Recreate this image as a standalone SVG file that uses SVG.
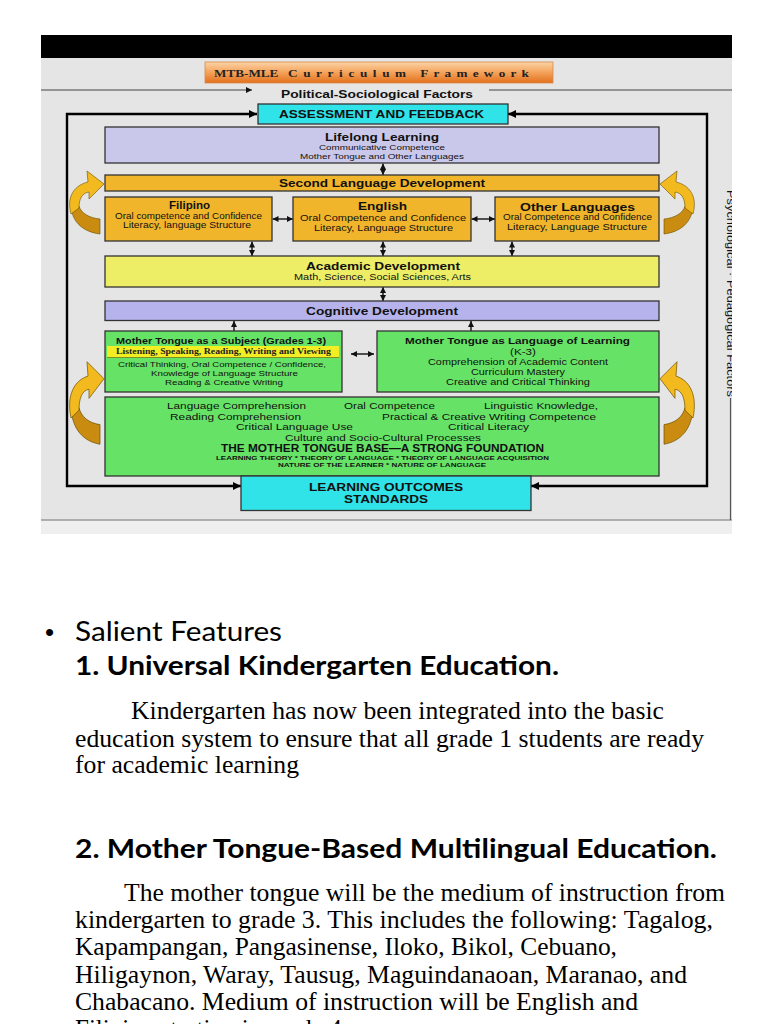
<svg xmlns="http://www.w3.org/2000/svg" width="768" height="1024" viewBox="0 0 768 1024">
<defs>
<style>
.t{font-family:"Liberation Sans",Arial,sans-serif;fill:#111}
.b{font-weight:bold}
.box{stroke:#333;stroke-width:1.3}
.lav{fill:#cac8ea}.cog{fill:#b6b3ec}.gold{fill:#f1b52b}.yel{fill:#eeee66}.grn{fill:#66e366}.cyan{fill:#2fe3e8}
.con{stroke:#111;fill:none;stroke-width:1.4}
.loop{stroke:#000;fill:none;stroke-width:2.4}
.body{font-family:"Liberation Serif","Times New Roman",serif;font-size:25px;fill:#000}
.head{font-family:Lato,"Open Sans",sans-serif;font-size:27px;fill:#000}
</style>
<linearGradient id="og" x1="0" y1="0" x2="0" y2="1">
<stop offset="0" stop-color="#fbd3a6"/><stop offset="0.5" stop-color="#f4a25a"/><stop offset="1" stop-color="#e2701c"/>
</linearGradient>
<marker id="ah" viewBox="0 0 6 6" refX="6" refY="3" markerWidth="6" markerHeight="6" markerUnits="userSpaceOnUse" orient="auto-start-reverse">
<path d="M0,0 L6,3 L0,6 z" fill="#111"/>
</marker>
<marker id="ahb" viewBox="0 0 8 8" refX="8" refY="4" markerWidth="8" markerHeight="8" markerUnits="userSpaceOnUse" orient="auto-start-reverse">
<path d="M0,0 L8,4 L0,8 z" fill="#000"/>
</marker>
<g id="curl">
<path d="M71,206 C72,223 84,232 100,234 L100,219 C89,218 81,213 79,206 Z" fill="#c98b10" stroke="#6b5000" stroke-width="0.6"/>
<path d="M71,214 C66,196 75,185 88,182 L87,171 L104,184 L89,199 L89,192 C82,193 79,199 79,208 Z" fill="#f2ba1e" stroke="#6b5000" stroke-width="0.6"/>
</g>
<clipPath id="clipR"><rect x="0" y="0" width="732" height="1024"/></clipPath>
</defs>

<rect width="768" height="1024" fill="#fff"/>
<rect x="41" y="35" width="691" height="23" fill="#000"/>
<rect x="41" y="58" width="691" height="462" fill="#e5e5e5"/>
<rect x="41" y="520" width="691" height="14" fill="#efefef"/>
<line x1="41" y1="520" x2="732" y2="520" stroke="#9a9a9a" stroke-width="1.5"/>

<g id="title">
<rect x="205" y="62" width="348" height="21" fill="url(#og)" stroke="#d98a4a" stroke-width="0.8"/>
<text transform="translate(214,77) scale(1.2,1)" font-family="Liberation Serif,'Times New Roman',serif" font-weight="bold" font-size="11" fill="#222">MTB-MLE<tspan dx="8" letter-spacing="4.7">Curriculum</tspan><tspan dx="7" letter-spacing="4.4">Framework</tspan></text>
</g>

<g id="side-labels">
<text class="t b" x="281" y="98" font-size="10.5" textLength="192" lengthAdjust="spacingAndGlyphs">Political-Sociological Factors</text>
<g clip-path="url(#clipR)">
<text class="t" transform="translate(727,190) rotate(90)" font-size="10" fill="#222" textLength="207" lengthAdjust="spacingAndGlyphs">Psychological · Pedagogical Factors</text>
</g>
</g>

<g id="connectors">
<path d="M41,90 H252" stroke="#444" stroke-width="1" fill="none" marker-end="url(#ah)"/>
<path d="M489,90 H732" stroke="#444" stroke-width="1" fill="none"/>
<path d="M730.5,398 V520" stroke="#555" stroke-width="1.2" fill="none"/>
<path class="loop" d="M257,114 H67 V486 H241" marker-start="url(#ahb)" marker-end="url(#ahb)"/>
<path class="loop" d="M508,114 H707 V486 H531" marker-start="url(#ahb)" marker-end="url(#ahb)"/>
<path class="con" d="M383,163.5 V175" marker-start="url(#ah)" marker-end="url(#ah)"/>
<path class="con" d="M252,241.5 V256" marker-start="url(#ah)" marker-end="url(#ah)"/>
<path class="con" d="M383,241.5 V256" marker-start="url(#ah)" marker-end="url(#ah)"/>
<path class="con" d="M512,241.5 V256" marker-start="url(#ah)" marker-end="url(#ah)"/>
<path class="con" d="M383,287 V301" marker-start="url(#ah)" marker-end="url(#ah)"/>
<path class="con" d="M272.5,219 H293" marker-start="url(#ah)" marker-end="url(#ah)"/>
<path class="con" d="M471.5,219 H495" marker-start="url(#ah)" marker-end="url(#ah)"/>
<path class="con" d="M351,354 H374" marker-start="url(#ah)" marker-end="url(#ah)"/>
<path class="con" d="M234,331 V321" marker-end="url(#ah)"/>
<path class="con" d="M471,331 V321" marker-end="url(#ah)"/>
</g>

<g id="curved-arrows">
<use href="#curl"/>
<use href="#curl" transform="translate(0,363) scale(1,1.31) translate(0,-172)"/>
<use href="#curl" transform="translate(764,0) scale(-1,1)"/>
<use href="#curl" transform="translate(764,363) scale(-1,1.31) translate(0,-172)"/>
</g>

<g id="assessment">
<rect class="box cyan" x="258" y="104" width="250" height="20"/>
<text class="t b" x="279" y="118" font-size="10.5" textLength="205" lengthAdjust="spacingAndGlyphs">ASSESSMENT AND FEEDBACK</text>
</g>

<g id="lifelong">
<rect class="box lav" x="105" y="127" width="554" height="36"/>
<text class="t b" x="325" y="140.5" font-size="11" textLength="114" lengthAdjust="spacingAndGlyphs">Lifelong Learning</text>
<text class="t" x="319" y="150" font-size="8" textLength="126" lengthAdjust="spacingAndGlyphs">Communicative Competence</text>
<text class="t" x="300" y="158.5" font-size="8" textLength="164" lengthAdjust="spacingAndGlyphs">Mother Tongue and Other Languages</text>
</g>

<g id="second-language">
<rect class="box gold" x="105" y="175" width="554" height="16"/>
<text class="t b" x="279" y="187" font-size="11" textLength="206" lengthAdjust="spacingAndGlyphs">Second Language Development</text>
</g>

<g id="filipino">
<rect class="box gold" x="105" y="197" width="167" height="44"/>
<text class="t b" x="169" y="209" font-size="10" textLength="41" lengthAdjust="spacingAndGlyphs">Filipino</text>
<text class="t" x="115" y="218.5" font-size="8.5" textLength="147" lengthAdjust="spacingAndGlyphs">Oral competence and Confidence</text>
<text class="t" x="123" y="227.5" font-size="8.5" textLength="128" lengthAdjust="spacingAndGlyphs">Literacy, language Structure</text>
</g>

<g id="english">
<rect class="box gold" x="293" y="197" width="178" height="44"/>
<text class="t b" x="358" y="210" font-size="11" textLength="49" lengthAdjust="spacingAndGlyphs">English</text>
<text class="t" x="300" y="221" font-size="9" textLength="166" lengthAdjust="spacingAndGlyphs">Oral Competence  and Confidence</text>
<text class="t" x="314" y="230.5" font-size="9" textLength="139" lengthAdjust="spacingAndGlyphs">Literacy, Language Structure</text>
</g>

<g id="other-languages">
<rect class="box gold" x="495" y="197" width="164" height="44"/>
<text class="t b" x="520" y="210.5" font-size="11" textLength="115" lengthAdjust="spacingAndGlyphs">Other Languages</text>
<text class="t" x="503" y="220" font-size="8.5" textLength="149" lengthAdjust="spacingAndGlyphs">Oral Competence and Confidence</text>
<text class="t" x="507" y="230" font-size="8.5" textLength="140" lengthAdjust="spacingAndGlyphs">Literacy, Language Structure</text>
</g>

<g id="academic">
<rect class="box yel" x="105" y="256" width="554" height="31"/>
<text class="t b" x="306" y="269.5" font-size="11" textLength="154" lengthAdjust="spacingAndGlyphs">Academic Development</text>
<text class="t" x="294" y="280" font-size="8.5" textLength="177" lengthAdjust="spacingAndGlyphs">Math, Science, Social Sciences, Arts</text>
</g>

<g id="cognitive">
<rect class="box cog" x="105" y="301" width="554" height="19.5"/>
<text class="t b" x="306" y="315" font-size="11" textLength="152" lengthAdjust="spacingAndGlyphs">Cognitive Development</text>
</g>

<g id="mt-subject">
<rect class="box grn" x="105" y="331" width="237" height="61"/>
<rect x="107" y="346" width="232" height="11" fill="#f3ee24"/>
<line x1="107" y1="357.5" x2="339" y2="357.5" stroke="#7f8f22" stroke-width="1"/>
<text class="t b" x="116" y="344" font-size="8.5" textLength="210" lengthAdjust="spacingAndGlyphs">Mother Tongue as a Subject (Grades 1-3)</text>
<text x="116" y="354" font-family="Liberation Serif,'Times New Roman',serif" font-weight="bold" font-size="7.5" fill="#222" textLength="215" lengthAdjust="spacingAndGlyphs">Listening, Speaking, Reading, Writing and Viewing</text>
<text class="t" x="118" y="367" font-size="8" textLength="208" lengthAdjust="spacingAndGlyphs">Critical Thinking, Oral Competence / Confidence,</text>
<text class="t" x="151" y="375.5" font-size="8" textLength="147" lengthAdjust="spacingAndGlyphs">Knowledge of Language Structure</text>
<text class="t" x="165" y="384.5" font-size="8" textLength="118" lengthAdjust="spacingAndGlyphs">Reading &amp; Creative Writing</text>
</g>

<g id="mt-learning">
<rect class="box grn" x="377" y="331" width="282" height="61"/>
<text class="t b" x="405" y="343.5" font-size="9.5" textLength="225" lengthAdjust="spacingAndGlyphs">Mother Tongue as Language of Learning</text>
<text class="t" x="510" y="354.5" font-size="9.5" textLength="26" lengthAdjust="spacingAndGlyphs">(K-3)</text>
<text class="t" x="428" y="365" font-size="9" textLength="180" lengthAdjust="spacingAndGlyphs">Comprehension of Academic Content</text>
<text class="t" x="471" y="375" font-size="9" textLength="94" lengthAdjust="spacingAndGlyphs">Curriculum Mastery</text>
<text class="t" x="446" y="384.5" font-size="9" textLength="144" lengthAdjust="spacingAndGlyphs">Creative  and Critical Thinking</text>
</g>

<g id="foundation">
<rect class="box grn" x="105" y="397" width="554" height="79"/>
<text class="t" x="167" y="409" font-size="9" textLength="139" lengthAdjust="spacingAndGlyphs">Language Comprehension</text>
<text class="t" x="344" y="409" font-size="9" textLength="91" lengthAdjust="spacingAndGlyphs">Oral Competence</text>
<text class="t" x="484" y="409" font-size="9" textLength="114" lengthAdjust="spacingAndGlyphs">Linguistic Knowledge,</text>
<text class="t" x="170" y="419.5" font-size="9" textLength="131" lengthAdjust="spacingAndGlyphs">Reading Comprehension</text>
<text class="t" x="382" y="419.5" font-size="9" textLength="214" lengthAdjust="spacingAndGlyphs">Practical &amp; Creative Writing Competence</text>
<text class="t" x="236" y="430" font-size="9" textLength="117" lengthAdjust="spacingAndGlyphs">Critical Language Use</text>
<text class="t" x="448" y="430" font-size="9" textLength="81" lengthAdjust="spacingAndGlyphs">Critical Literacy</text>
<text class="t" x="285" y="441" font-size="9" textLength="196" lengthAdjust="spacingAndGlyphs">Culture and Socio-Cultural Processes</text>
<text class="t b" x="221" y="452" font-size="10" textLength="323" lengthAdjust="spacingAndGlyphs">THE MOTHER TONGUE BASE—A STRONG FOUNDATION</text>
<text class="t b" x="216" y="460" font-size="6" textLength="333" lengthAdjust="spacingAndGlyphs">LEARNING THEORY *  THEORY OF LANGUAGE * THEORY OF LANGUAGE ACQUISITION</text>
<text class="t b" x="278" y="467" font-size="6" textLength="208" lengthAdjust="spacingAndGlyphs">NATURE OF THE LEARNER  *  NATURE OF LANGUAGE</text>
</g>

<g id="outcomes">
<rect class="box cyan" x="241" y="476" width="290" height="34.5"/>
<text class="t b" x="309" y="491" font-size="11" textLength="154" lengthAdjust="spacingAndGlyphs">LEARNING OUTCOMES</text>
<text class="t b" x="344" y="503" font-size="11" textLength="84" lengthAdjust="spacingAndGlyphs">STANDARDS</text>
</g>

<g id="slide-text">
<text x="45" y="641" font-family="'Liberation Sans',Arial,sans-serif" font-size="26" fill="#000">•</text>
<text class="head" x="75" y="641" textLength="207" lengthAdjust="spacingAndGlyphs">Salient Features</text>
<text class="head" x="75" y="675" font-weight="bold" textLength="484" lengthAdjust="spacingAndGlyphs">1. Universal Kindergarten Education.</text>
<text class="body" x="131" y="719" textLength="533" lengthAdjust="spacingAndGlyphs">Kindergarten has now been integrated into the basic</text>
<text class="body" x="75" y="747" textLength="629" lengthAdjust="spacingAndGlyphs">education system to ensure that all grade 1 students are ready</text>
<text class="body" x="75" y="773" textLength="224" lengthAdjust="spacingAndGlyphs">for academic learning</text>
<text class="head" x="75" y="858" font-weight="bold" textLength="642" lengthAdjust="spacingAndGlyphs">2. Mother Tongue-Based Multilingual Education.</text>
<text class="body" x="124" y="901" textLength="601" lengthAdjust="spacingAndGlyphs">The mother tongue will be the medium of instruction from</text>
<text class="body" x="75" y="928" textLength="638" lengthAdjust="spacingAndGlyphs">kindergarten to grade 3. This includes the following: Tagalog,</text>
<text class="body" x="75" y="955" textLength="542" lengthAdjust="spacingAndGlyphs">Kapampangan, Pangasinense, Iloko, Bikol, Cebuano,</text>
<text class="body" x="75" y="983" textLength="612" lengthAdjust="spacingAndGlyphs">Hiligaynon, Waray, Tausug, Maguindanaoan, Maranao, and</text>
<text class="body" x="75" y="1010" textLength="563" lengthAdjust="spacingAndGlyphs">Chabacano. Medium of instruction will be English and</text>
<text class="body" x="75" y="1037">Filipino starting in grade 4.</text>
</g>
</svg>
